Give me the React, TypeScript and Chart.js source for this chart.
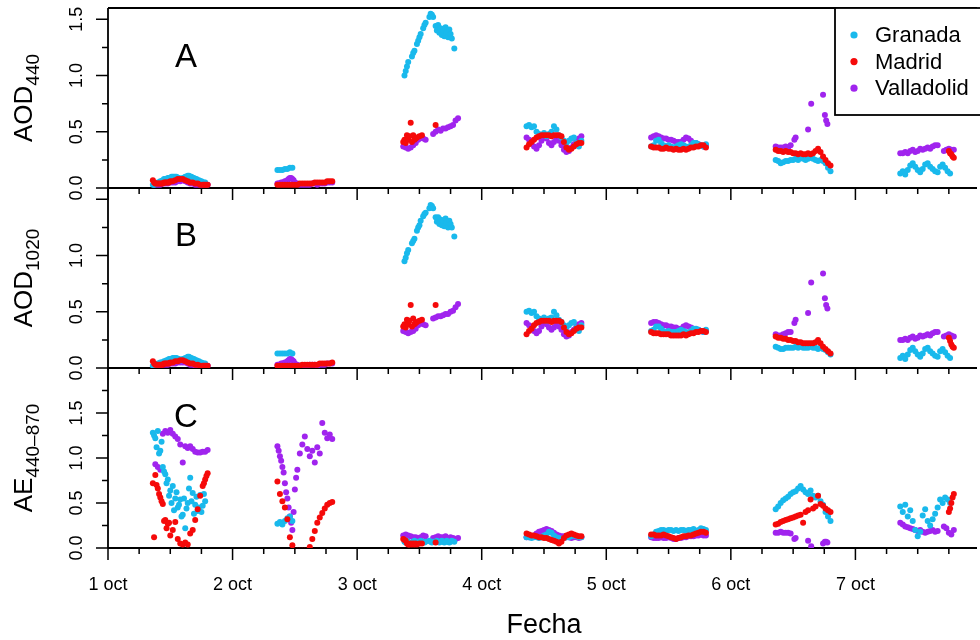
import { useEffect, useRef } from 'react';
import { Chart, registerables } from 'chart.js';

Chart.register(...registerables);

const FONT = "'Liberation Sans', Arial, Helvetica, sans-serif";

// Day ticks (1 = 1 October, 00:00 UTC)
const dayTicks = [1, 2, 3, 4, 5, 6, 7];
const dayLabels = ['1 oct', '2 oct', '3 oct', '4 oct', '5 oct', '6 oct', '7 oct'];
const xMin = 1;
const xMax = 7.976;

// Labelled values on each panel's y axis
const aod440Labels = [0, 0.5, 1.0, 1.5];
const aod1020Labels = [0, 0.5, 1.0];
const aeLabels = [0, 0.5, 1.0, 1.5];

// ---------------- Granada ----------------
const granadaTime = [
  1.36, 1.37, 1.38, 1.39, 1.40, 1.41, 1.42, 1.43, 1.44, 1.46, 1.48, 1.50, 1.52, 1.54, 1.56, 1.58, 1.60, 1.62, 1.64, 1.66, 1.68, 1.70, 1.72, 1.74, 1.76, 1.78,
  1.45, 1.47, 1.49, 1.51, 1.53, 1.55, 1.57, 1.59, 1.61, 1.63, 1.65, 1.67, 1.69, 1.71, 1.73, 1.75, 1.77,
  2.36, 2.38, 2.40, 2.42, 2.44, 2.46, 2.48,
  3.38, 3.39, 3.40, 3.41, 3.44, 3.45, 3.46, 3.48, 3.49, 3.50, 3.51, 3.53, 3.54, 3.55, 3.58, 3.59, 3.60, 3.61, 3.63, 3.64, 3.65, 3.66, 3.67, 3.68, 3.69, 3.70, 3.71, 3.72, 3.73, 3.74, 3.75, 3.76, 3.78,
  4.36, 4.38, 4.40, 4.42, 4.44, 4.46, 4.48, 4.50, 4.52, 4.54, 4.56, 4.58, 4.60, 4.62, 4.64, 4.66, 4.68, 4.70, 4.72, 4.74, 4.76, 4.78, 4.80,
  5.36, 5.38, 5.40, 5.42, 5.44, 5.46, 5.48, 5.50, 5.52, 5.54, 5.56, 5.58, 5.60, 5.62, 5.64, 5.66, 5.68, 5.70, 5.72, 5.74, 5.76, 5.78, 5.80,
  6.36, 6.38, 6.40, 6.42, 6.44, 6.46, 6.48, 6.50, 6.52, 6.54, 6.56, 6.58, 6.60, 6.62, 6.64, 6.66, 6.68, 6.70, 6.72, 6.74, 6.76, 6.78, 6.80,
  7.36, 7.38, 7.40, 7.42, 7.44, 7.46, 7.48, 7.50, 7.52, 7.54, 7.56, 7.58, 7.60, 7.62, 7.64, 7.66, 7.68, 7.70, 7.72, 7.74, 7.76,
];
const granadaAod440 = [
  0.03, 0.03, 0.04, 0.04, 0.05, 0.05, 0.06, 0.06, 0.07, 0.08, 0.09, 0.09, 0.10, 0.10, 0.09, 0.08, 0.09, 0.10, 0.11, 0.10, 0.09, 0.08, 0.07, 0.06, 0.05, 0.05,
  0.08, 0.08, 0.09, 0.10, 0.10, 0.10, 0.09, 0.08, 0.09, 0.10, 0.11, 0.10, 0.09, 0.08, 0.07, 0.06, 0.05,
  0.16, 0.16, 0.16, 0.17, 0.17, 0.18, 0.18,
  1.00, 1.04, 1.08, 1.12, 1.17, 1.20, 1.22, 1.28, 1.31, 1.34, 1.37, 1.42, 1.45, 1.47, 1.52, 1.55, 1.54, 1.52, 1.44, 1.40, 1.45, 1.38, 1.42, 1.36, 1.40, 1.35, 1.43, 1.38, 1.34, 1.41, 1.37, 1.33, 1.24,
  0.55, 0.56, 0.54, 0.55, 0.50, 0.48, 0.47, 0.49, 0.46, 0.48, 0.50, 0.55, 0.52, 0.47, 0.45, 0.42, 0.40, 0.42, 0.44, 0.45, 0.40, 0.37, 0.42,
  0.37, 0.38, 0.42, 0.43, 0.40, 0.38, 0.37, 0.38, 0.37, 0.36, 0.37, 0.38, 0.39, 0.38, 0.37, 0.36, 0.38, 0.40, 0.40, 0.39, 0.38, 0.37, 0.39,
  0.25, 0.24, 0.22, 0.23, 0.24, 0.24, 0.25, 0.25, 0.26, 0.25, 0.27, 0.26, 0.25, 0.26, 0.27, 0.26, 0.25, 0.24, 0.25, 0.24, 0.22, 0.18, 0.15,
  0.13, 0.15, 0.12, 0.16, 0.20, 0.22, 0.19, 0.16, 0.14, 0.17, 0.21, 0.22, 0.19, 0.17, 0.15, 0.14, 0.19, 0.21, 0.18, 0.15, 0.13,
];
const granadaAod1020 = [
  0.02, 0.02, 0.03, 0.03, 0.04, 0.04, 0.05, 0.05, 0.05, 0.06, 0.07, 0.08, 0.09, 0.09, 0.08, 0.07, 0.08, 0.09, 0.10, 0.09, 0.08, 0.07, 0.06, 0.05, 0.04, 0.04,
  0.06, 0.07, 0.08, 0.08, 0.09, 0.09, 0.08, 0.07, 0.08, 0.09, 0.10, 0.09, 0.08, 0.07, 0.06, 0.05, 0.04,
  0.13, 0.13, 0.13, 0.13, 0.13, 0.14, 0.13,
  0.95, 0.98, 1.02, 1.05, 1.11, 1.13, 1.15, 1.22, 1.25, 1.27, 1.31, 1.35, 1.37, 1.38, 1.42, 1.45, 1.44, 1.42, 1.34, 1.30, 1.34, 1.28, 1.32, 1.27, 1.31, 1.26, 1.33, 1.29, 1.25, 1.31, 1.28, 1.25, 1.17,
  0.50, 0.51, 0.49, 0.50, 0.46, 0.44, 0.43, 0.45, 0.42, 0.44, 0.45, 0.50, 0.47, 0.43, 0.41, 0.38, 0.36, 0.38, 0.40, 0.41, 0.36, 0.33, 0.38,
  0.33, 0.34, 0.37, 0.37, 0.35, 0.33, 0.32, 0.33, 0.32, 0.32, 0.32, 0.33, 0.34, 0.33, 0.32, 0.31, 0.33, 0.35, 0.35, 0.34, 0.33, 0.32, 0.34,
  0.19, 0.18, 0.17, 0.17, 0.18, 0.18, 0.18, 0.18, 0.19, 0.18, 0.19, 0.18, 0.18, 0.18, 0.19, 0.18, 0.18, 0.17, 0.18, 0.17, 0.16, 0.14, 0.12,
  0.09, 0.11, 0.08, 0.12, 0.16, 0.18, 0.15, 0.12, 0.10, 0.13, 0.17, 0.18, 0.15, 0.13, 0.11, 0.10, 0.15, 0.17, 0.14, 0.11, 0.09,
];
const granadaAe = [
  1.28, 1.25, 1.22, 1.12, 1.30, 1.05, 1.08, 1.18, 0.90, 0.82, 0.76, 0.64, 0.69, 0.55, 0.45, 0.54, 0.37, 0.22, 0.50, 0.78, 0.61, 0.48, 0.41, 0.59, 0.47, 0.52,
  0.85, 0.72, 0.58, 0.50, 0.42, 0.62, 0.48, 0.35, 0.55, 0.44, 0.66, 0.52, 0.38, 0.57, 0.45, 0.40, 0.60,
  0.27, 0.29, 0.26, 0.30, 0.33, 0.35, 0.30,
  0.07, 0.06, 0.08, 0.07, 0.06, 0.07, 0.08, 0.07, 0.06, 0.07, 0.08, 0.07, 0.06, 0.07, 0.08, 0.07, 0.06, 0.07, 0.07, 0.08, 0.07, 0.06, 0.07, 0.08, 0.07, 0.06, 0.07, 0.08, 0.07, 0.06, 0.07, 0.08, 0.07,
  0.12, 0.12, 0.11, 0.12, 0.12, 0.11, 0.12, 0.14, 0.15, 0.18, 0.17, 0.14, 0.12, 0.11, 0.10, 0.11, 0.12, 0.12, 0.13, 0.14, 0.13, 0.12, 0.12,
  0.13, 0.15, 0.18, 0.19, 0.20, 0.20, 0.19, 0.20, 0.20, 0.19, 0.20, 0.19, 0.20, 0.20, 0.19, 0.20, 0.20, 0.21, 0.19, 0.20, 0.22, 0.21, 0.20,
  0.43, 0.46, 0.50, 0.53, 0.55, 0.57, 0.60, 0.62, 0.63, 0.66, 0.69, 0.65, 0.62, 0.60, 0.64, 0.58, 0.56, 0.58, 0.52, 0.48, 0.40, 0.35, 0.30,
  0.46, 0.40, 0.48, 0.35, 0.42, 0.30, 0.20, 0.13, 0.18, 0.36, 0.43, 0.30, 0.25, 0.32, 0.38, 0.45, 0.54, 0.50, 0.56, 0.54, 0.50,
];

// ---------------- Madrid ----------------
const madridTime = [
  1.36, 1.38, 1.40, 1.42, 1.44, 1.46, 1.48, 1.50, 1.52, 1.54, 1.56, 1.58, 1.60, 1.62, 1.64, 1.66, 1.68, 1.70, 1.72, 1.74, 1.76, 1.78, 1.80,
  1.37, 1.39, 1.41, 1.43, 1.45, 1.47, 1.49, 1.77, 1.79,
  2.36, 2.38, 2.40, 2.42, 2.44, 2.46, 2.48, 2.50, 2.52, 2.54, 2.56, 2.58, 2.60, 2.62, 2.64, 2.66, 2.68, 2.70, 2.72, 2.74, 2.76, 2.78, 2.80,
  3.37, 3.38, 3.39, 3.40, 3.41, 3.42, 3.43, 3.44, 3.45, 3.46, 3.47, 3.48, 3.50, 3.52, 3.63,
  4.36, 4.38, 4.40, 4.42, 4.44, 4.46, 4.48, 4.50, 4.52, 4.54, 4.56, 4.58, 4.60, 4.62, 4.64, 4.66, 4.68, 4.70, 4.72, 4.74, 4.76, 4.78, 4.80,
  5.36, 5.38, 5.40, 5.42, 5.44, 5.46, 5.48, 5.50, 5.52, 5.54, 5.56, 5.58, 5.60, 5.62, 5.64, 5.66, 5.68, 5.70, 5.72, 5.74, 5.76, 5.78, 5.80,
  6.36, 6.38, 6.40, 6.42, 6.44, 6.46, 6.48, 6.50, 6.52, 6.54, 6.56, 6.58, 6.60, 6.62, 6.64, 6.66, 6.68, 6.70, 6.72, 6.74, 6.76, 6.78, 6.80,
  7.75, 7.76, 7.77, 7.78, 7.79,
];
const madridAod440 = [
  0.07, 0.04, 0.04, 0.04, 0.04, 0.05, 0.05, 0.06, 0.06, 0.07, 0.08, 0.08, 0.08, 0.07, 0.06, 0.05, 0.05, 0.04, 0.04, 0.03, 0.03, 0.03, 0.03,
  0.05, 0.04, 0.04, 0.04, 0.05, 0.05, 0.05, 0.03, 0.03,
  0.03, 0.03, 0.03, 0.03, 0.03, 0.03, 0.03, 0.03, 0.03, 0.04, 0.04, 0.04, 0.04, 0.04, 0.04, 0.05, 0.05, 0.05, 0.05, 0.05, 0.06, 0.06, 0.06,
  0.41, 0.43, 0.40, 0.47, 0.43, 0.46, 0.58, 0.41, 0.47, 0.43, 0.44, 0.45, 0.46, 0.47, 0.56,
  0.36, 0.39, 0.41, 0.43, 0.45, 0.46, 0.47, 0.47, 0.47, 0.47, 0.46, 0.47, 0.47, 0.47, 0.46, 0.41, 0.36, 0.34, 0.35, 0.37, 0.39, 0.40, 0.40,
  0.37, 0.36, 0.36, 0.36, 0.35, 0.35, 0.36, 0.35, 0.35, 0.34, 0.35, 0.34, 0.34, 0.35, 0.34, 0.35, 0.36, 0.36, 0.37, 0.37, 0.38, 0.38, 0.36,
  0.34, 0.33, 0.33, 0.32, 0.33, 0.32, 0.32, 0.31, 0.31, 0.30, 0.31, 0.30, 0.30, 0.31, 0.30, 0.31, 0.33, 0.35, 0.32, 0.28, 0.25, 0.22, 0.20,
  0.33, 0.31, 0.30, 0.28, 0.27,
];
const madridAod1020 = [
  0.06, 0.03, 0.03, 0.03, 0.03, 0.04, 0.04, 0.05, 0.05, 0.06, 0.06, 0.07, 0.07, 0.06, 0.05, 0.04, 0.04, 0.03, 0.03, 0.02, 0.02, 0.02, 0.02,
  0.04, 0.03, 0.03, 0.03, 0.04, 0.04, 0.04, 0.02, 0.02,
  0.02, 0.02, 0.02, 0.02, 0.02, 0.02, 0.02, 0.02, 0.02, 0.02, 0.03, 0.03, 0.03, 0.03, 0.03, 0.03, 0.03, 0.04, 0.04, 0.04, 0.04, 0.04, 0.05,
  0.37, 0.39, 0.36, 0.43, 0.39, 0.42, 0.56, 0.37, 0.44, 0.39, 0.40, 0.41, 0.42, 0.43, 0.56,
  0.30, 0.33, 0.35, 0.38, 0.40, 0.41, 0.42, 0.42, 0.42, 0.42, 0.41, 0.42, 0.42, 0.42, 0.41, 0.36, 0.32, 0.30, 0.31, 0.33, 0.35, 0.36, 0.36,
  0.32, 0.31, 0.31, 0.31, 0.30, 0.30, 0.30, 0.30, 0.29, 0.29, 0.29, 0.29, 0.29, 0.30, 0.29, 0.30, 0.31, 0.31, 0.32, 0.32, 0.33, 0.33, 0.32,
  0.28, 0.27, 0.27, 0.26, 0.26, 0.25, 0.25, 0.24, 0.24, 0.23, 0.23, 0.22, 0.22, 0.22, 0.22, 0.22, 0.23, 0.25, 0.22, 0.19, 0.17, 0.15, 0.13,
  0.27, 0.24, 0.21, 0.19, 0.18,
];
const madridAe = [
  0.72, 0.81, 0.66, 0.56, 0.49, 0.31, 0.27, 0.14, 0.20, 0.29, 0.10, 0.05, 0.04, 0.06, 0.04, 0.16, 0.20, 0.31, 0.43, 0.58, 0.69, 0.76, 0.83,
  0.12, 0.70, 0.60, 0.52, 0.30, 0.22, 0.28, 0.72, 0.80,
  0.74, 0.60, 0.52, 0.45, 0.32, 0.12, 0.03, -0.03, -0.03, -0.03, -0.03, -0.03, -0.03, 0.01, 0.10, 0.19, 0.28, 0.34, 0.39, 0.44, 0.48, 0.50, 0.51,
  0.10, 0.09, 0.08, 0.05, 0.04, 0.04, 0.05, 0.04, 0.05, 0.04, 0.05, 0.04, 0.05, 0.05, 0.06,
  0.16, 0.15, 0.14, 0.14, 0.13, 0.12, 0.12, 0.11, 0.11, 0.10, 0.09, 0.08, 0.07, 0.05, 0.07, 0.11, 0.14, 0.15, 0.16, 0.15, 0.14, 0.13, 0.13,
  0.15, 0.15, 0.14, 0.14, 0.14, 0.15, 0.14, 0.13, 0.12, 0.11, 0.10, 0.11, 0.12, 0.13, 0.13, 0.14, 0.14, 0.15, 0.16, 0.17, 0.18, 0.18, 0.17,
  0.26, 0.27, 0.29, 0.30, 0.31, 0.32, 0.33, 0.34, 0.35, 0.36, 0.37, 0.28, 0.40, 0.42, 0.54, 0.44, 0.46, 0.58, 0.49, 0.47, 0.44, 0.42, 0.40,
  0.40, 0.44, 0.50, 0.56, 0.60,
];

// ---------------- Valladolid ----------------
const valladolidTime = [
  1.38, 1.40, 1.42, 1.44, 1.46, 1.48, 1.50, 1.52, 1.54, 1.56, 1.58, 1.60, 1.62, 1.64, 1.66, 1.68, 1.70, 1.72, 1.74, 1.76, 1.78, 1.80,
  2.36, 2.38, 2.40, 2.42, 2.44, 2.46, 2.48, 2.50, 2.52, 2.54, 2.56, 2.58, 2.60, 2.62, 2.64, 2.66, 2.68, 2.70, 2.72, 2.74, 2.76, 2.78, 2.80,
  2.37, 2.39, 2.41, 2.43, 2.45, 2.47, 2.49, 2.51,
  3.37, 3.39, 3.41, 3.43, 3.45, 3.47, 3.49, 3.51, 3.53, 3.55, 3.61, 3.63, 3.65, 3.67, 3.69, 3.71, 3.73, 3.75, 3.77, 3.79, 3.81,
  4.36, 4.38, 4.40, 4.42, 4.44, 4.46, 4.48, 4.50, 4.52, 4.54, 4.56, 4.58, 4.60, 4.62, 4.64, 4.66, 4.68, 4.70, 4.72, 4.74, 4.76, 4.78, 4.80,
  5.36, 5.38, 5.40, 5.42, 5.44, 5.46, 5.48, 5.50, 5.52, 5.54, 5.56, 5.58, 5.60, 5.62, 5.64, 5.66, 5.68, 5.70, 5.72, 5.74, 5.76, 5.78, 5.80,
  6.36, 6.38, 6.40, 6.42, 6.44, 6.46, 6.48, 6.51, 6.52, 6.62, 6.645, 6.74, 6.755, 6.765, 6.775,
  7.36, 7.38, 7.40, 7.42, 7.44, 7.46, 7.48, 7.50, 7.52, 7.54, 7.56, 7.58, 7.60, 7.62, 7.64, 7.66, 7.71, 7.73, 7.75, 7.77, 7.79,
];
const valladolidAod440 = [
  0.03, 0.03, 0.03, 0.04, 0.04, 0.04, 0.05, 0.05, 0.05, 0.06, 0.06, 0.07, 0.06, 0.05, 0.04, 0.04, 0.03, 0.03, 0.03, 0.03, 0.03, 0.03,
  0.04, 0.04, 0.05, 0.06, 0.07, 0.09, 0.08, 0.05, 0.04, 0.03, 0.03, 0.03, 0.03, 0.03, 0.04, 0.04, 0.03, 0.04, 0.04, 0.04, 0.05, 0.05, 0.05,
  0.04, 0.05, 0.05, 0.06, 0.08, 0.09, 0.07, 0.04,
  0.37, 0.36, 0.35, 0.36, 0.38, 0.40, 0.43, 0.45, 0.44, 0.43, 0.48, 0.50, 0.52, 0.51, 0.53, 0.53, 0.54, 0.55, 0.56, 0.60, 0.62,
  0.45, 0.43, 0.40, 0.37, 0.35, 0.38, 0.42, 0.45, 0.44, 0.40, 0.38, 0.41, 0.44, 0.42, 0.38, 0.34, 0.32, 0.33, 0.36, 0.39, 0.42, 0.44, 0.46,
  0.45, 0.46, 0.47, 0.46, 0.45, 0.44, 0.44, 0.43, 0.43, 0.42, 0.41, 0.41, 0.41, 0.43, 0.45, 0.44, 0.42, 0.40, 0.40, 0.39, 0.38, 0.37, 0.38,
  0.37, 0.36, 0.36, 0.36, 0.37, 0.36, 0.38, 0.43, 0.45, 0.52, 0.75, 0.83, 0.65, 0.60, 0.57,
  0.31, 0.31, 0.32, 0.31, 0.33, 0.34, 0.32, 0.33, 0.35, 0.34, 0.35, 0.36, 0.35, 0.37, 0.38, 0.38, 0.33, 0.34, 0.35, 0.34, 0.34,
];
const valladolidAod1020 = [
  0.02, 0.02, 0.02, 0.03, 0.03, 0.03, 0.04, 0.04, 0.04, 0.05, 0.05, 0.05, 0.05, 0.04, 0.03, 0.03, 0.02, 0.02, 0.02, 0.02, 0.02, 0.02,
  0.03, 0.03, 0.04, 0.05, 0.06, 0.08, 0.07, 0.04, 0.03, 0.02, 0.02, 0.02, 0.02, 0.03, 0.03, 0.03, 0.02, 0.03, 0.03, 0.03, 0.04, 0.04, 0.04,
  0.03, 0.04, 0.04, 0.05, 0.07, 0.08, 0.06, 0.03,
  0.33, 0.32, 0.31, 0.32, 0.33, 0.35, 0.38, 0.40, 0.39, 0.38, 0.44, 0.45, 0.46, 0.46, 0.47, 0.48, 0.48, 0.50, 0.51, 0.54, 0.57,
  0.40, 0.38, 0.35, 0.33, 0.31, 0.33, 0.37, 0.40, 0.39, 0.36, 0.34, 0.36, 0.39, 0.37, 0.34, 0.30, 0.28, 0.29, 0.32, 0.34, 0.37, 0.39, 0.40,
  0.40, 0.41, 0.41, 0.40, 0.39, 0.38, 0.38, 0.37, 0.37, 0.36, 0.36, 0.35, 0.35, 0.37, 0.38, 0.37, 0.36, 0.35, 0.34, 0.34, 0.33, 0.32, 0.33,
  0.30, 0.29, 0.29, 0.30, 0.31, 0.32, 0.32, 0.40, 0.43, 0.49, 0.76, 0.84, 0.62, 0.56, 0.53,
  0.25, 0.25, 0.26, 0.25, 0.27, 0.28, 0.26, 0.27, 0.29, 0.28, 0.29, 0.30, 0.29, 0.31, 0.32, 0.32, 0.28, 0.29, 0.30, 0.29, 0.28,
];
const valladolidAe = [
  0.93, 0.90, 0.87, 1.27, 1.30, 1.28, 1.31, 1.27, 1.24, 1.21, 1.15, 0.95, 1.13, 1.11, 1.13, 1.10, 1.07, 1.06, 1.06, 1.07, 1.07, 1.09,
  1.13, 1.02, 0.90, 0.72, 0.55, 0.35, 0.20, 0.65, 0.87, 1.05, 1.15, 1.24, 1.10, 1.02, 1.08, 0.95, 1.12, 1.05, 1.39, 1.28, 1.22, 1.26, 1.21,
  1.08, 0.97, 0.84, 0.62, 0.45, 0.28, 0.40, 0.78,
  0.14, 0.15, 0.14, 0.13, 0.12, 0.12, 0.11, 0.12, 0.14, 0.13, 0.11, 0.12, 0.13, 0.12, 0.12, 0.13, 0.11, 0.12, 0.11, 0.10, 0.11,
  0.12, 0.12, 0.13, 0.14, 0.16, 0.18, 0.19, 0.20, 0.21, 0.20, 0.19, 0.17, 0.15, 0.14, 0.13, 0.13, 0.12, 0.12, 0.11, 0.12, 0.12, 0.11, 0.12,
  0.12, 0.11, 0.11, 0.11, 0.12, 0.11, 0.11, 0.12, 0.11, 0.10, 0.10, 0.11, 0.11, 0.12, 0.12, 0.13, 0.13, 0.13, 0.14, 0.14, 0.15, 0.14, 0.14,
  0.17, 0.17, 0.18, 0.17, 0.17, 0.17, 0.16, 0.10, 0.11, 0.08, 0.02, 0.05, 0.07, 0.07, 0.06,
  0.28, 0.26, 0.24, 0.23, 0.22, 0.21, 0.20, 0.19, 0.20, 0.18, 0.17, 0.18, 0.19, 0.20, 0.18, 0.19, 0.24, 0.22, 0.17, 0.15, 0.20,
];

type Panel = {
  id: string;
  max: number;
  letter: string;
  letterY: number;
  title: string;
  sub: string;
  labelled: number[];
};

const panels: Panel[] = [
  { id: 'yA', max: 1.6, letter: 'A', letterY: 1.18, title: 'AOD', sub: '440', labelled: aod440Labels },
  { id: 'yB', max: 1.6, letter: 'B', letterY: 1.19, title: 'AOD', sub: '1020', labelled: aod1020Labels },
  { id: 'yC', max: 2.0, letter: 'C', letterY: 1.48, title: 'AE', sub: '440\u2013870', labelled: aeLabels },
];

const series = [
  { label: 'Granada', color: '#19B9EC', order: 1, time: granadaTime, values: [granadaAod440, granadaAod1020, granadaAe] },
  { label: 'Madrid', color: '#F50A0A', order: 0, time: madridTime, values: [madridAod440, madridAod1020, madridAe] },
  { label: 'Valladolid', color: '#A024EE', order: 2, time: valladolidTime, values: [valladolidAod440, valladolidAod1020, valladolidAe] },
];

const LETTER_X = 1.626;

// Keep each panel's points inside its own plotting region
const panelClip = {
  id: 'panelClip',
  beforeDatasetDraw(chart: any, args: any) {
    const ys = chart.scales[args.meta.yAxisID];
    const { left, right } = chart.chartArea;
    const ctx = chart.ctx;
    ctx.save();
    ctx.beginPath();
    ctx.rect(left, ys.top, right - left, ys.bottom - ys.top);
    ctx.clip();
  },
  afterDatasetDraw(chart: any) {
    chart.ctx.restore();
  },
};

function drawRotatedTitle(ctx: CanvasRenderingContext2D, main: string, sub: string, xBase: number, yCenter: number) {
  ctx.save();
  ctx.translate(xBase, yCenter);
  ctx.rotate(-Math.PI / 2);
  ctx.font = `26px ${FONT}`;
  const w1 = ctx.measureText(main).width;
  ctx.font = `19px ${FONT}`;
  const w2 = ctx.measureText(sub).width;
  const start = -(w1 + w2) / 2;
  ctx.textAlign = 'left';
  ctx.textBaseline = 'alphabetic';
  ctx.fillStyle = '#000';
  ctx.font = `26px ${FONT}`;
  ctx.fillText(main, start, 0);
  ctx.font = `19px ${FONT}`;
  ctx.fillText(sub, start + w1, 7);
  ctx.restore();
}

// Frame, tick marks, tick labels, titles, panel letters
const panelFrame = {
  id: 'panelFrame',
  beforeDatasetsDraw(chart: any) {
    const { ctx, chartArea } = chart;
    const xs = chart.scales.x;
    ctx.save();
    ctx.strokeStyle = '#000';
    ctx.lineWidth = 1.8;
    ctx.beginPath();
    ctx.moveTo(chartArea.left, chartArea.top);
    ctx.lineTo(chartArea.right, chartArea.top);
    ctx.moveTo(chartArea.left, chartArea.top);
    ctx.lineTo(chartArea.left, chartArea.bottom);
    panels.forEach((p) => {
      const ys = chart.scales[p.id];
      ctx.moveTo(chartArea.left, ys.bottom);
      ctx.lineTo(chartArea.right, ys.bottom);
    });
    ctx.stroke();

    ctx.lineWidth = 1.5;
    ctx.beginPath();
    panels.forEach((p) => {
      const ys = chart.scales[p.id];
      for (let k = 0; k * 0.25 <= p.max + 1e-9; k++) {
        const py = ys.getPixelForValue(k * 0.25);
        const len = k % 2 === 0 ? 12 : 6;
        ctx.moveTo(chartArea.left, py);
        ctx.lineTo(chartArea.left - len, py);
      }
      for (let k = 0; xMin + k * 0.25 <= xMax; k++) {
        const px = xs.getPixelForValue(xMin + k * 0.25);
        const len = k % 4 === 0 ? 12 : 6;
        ctx.moveTo(px, ys.bottom);
        ctx.lineTo(px, ys.bottom + len);
      }
    });
    ctx.stroke();

    ctx.fillStyle = '#000';
    // y tick labels, rotated
    ctx.font = `18px ${FONT}`;
    panels.forEach((p) => {
      const ys = chart.scales[p.id];
      p.labelled.forEach((v) => {
        ctx.save();
        ctx.translate(82, ys.getPixelForValue(v));
        ctx.rotate(-Math.PI / 2);
        ctx.textAlign = 'center';
        ctx.textBaseline = 'alphabetic';
        ctx.fillText(v.toFixed(1), 0, 0);
        ctx.restore();
      });
      drawRotatedTitle(ctx, p.title, p.sub, 32, (ys.top + ys.bottom) / 2);
    });

    // x tick labels
    ctx.textAlign = 'center';
    ctx.textBaseline = 'alphabetic';
    ctx.font = `18px ${FONT}`;
    const bottom = chart.scales[panels[panels.length - 1].id].bottom;
    dayTicks.forEach((d, i) => {
      ctx.fillText(dayLabels[i], xs.getPixelForValue(d), bottom + 42);
    });
    ctx.font = `27px ${FONT}`;
    const xCenter = (xs.getPixelForValue(1) + xs.getPixelForValue(8)) / 2;
    ctx.fillText('Fecha', xCenter, bottom + 85);

    // panel letters
    ctx.font = `33px ${FONT}`;
    panels.forEach((p) => {
      const ys = chart.scales[p.id];
      ctx.fillText(p.letter, xs.getPixelForValue(LETTER_X), ys.getPixelForValue(p.letterY) + 12);
    });
    ctx.restore();
  },
  afterDatasetsDraw(chart: any) {
    const { ctx, chartArea } = chart;
    const left = chartArea.right - 142;
    const top = chartArea.top;
    ctx.save();
    ctx.fillStyle = '#fff';
    ctx.fillRect(left, top, 200, 107);
    ctx.strokeStyle = '#000';
    ctx.lineWidth = 1.8;
    ctx.strokeRect(left, top, 200, 107);
    ctx.font = `22px ${FONT}`;
    ctx.textAlign = 'left';
    ctx.textBaseline = 'middle';
    series.forEach((s, i) => {
      const cy = top + 27 + i * 26.6;
      ctx.fillStyle = s.color;
      ctx.beginPath();
      ctx.arc(left + 19, cy, 3.6, 0, Math.PI * 2);
      ctx.fill();
      ctx.fillStyle = '#000';
      ctx.fillText(s.label, left + 40, cy + 1);
    });
    ctx.restore();
  },
};

export default function App() {
  const ref = useRef<HTMLCanvasElement>(null);

  useEffect(() => {
    const canvas = ref.current;
    if (!canvas) return;
    const datasets: any[] = [];
    panels.forEach((panel, p) => {
      series.forEach((s) => {
        datasets.push({
          label: `${s.label} ${panel.letter}`,
          data: s.time.map((t, i) => ({ x: t, y: s.values[p][i] })),
          xAxisID: 'x',
          yAxisID: panel.id,
          backgroundColor: s.color,
          borderWidth: 0,
          pointRadius: 3,
          pointHoverRadius: 3,
          showLine: false,
          order: s.order,
        });
      });
    });

    const scales: any = {
      x: { type: 'linear', position: 'bottom', min: xMin, max: xMax, display: false },
    };
    // stacked panels share the left edge; later axes are placed higher
    [...panels].reverse().forEach((panel) => {
      scales[panel.id] = {
        type: 'linear',
        position: 'left',
        stack: 'panels',
        stackWeight: 1,
        min: 0,
        max: panel.max,
        display: false,
      };
    });

    const chart = new Chart(canvas, {
      type: 'scatter',
      data: { datasets },
      options: {
        animation: false,
        responsive: false,
        devicePixelRatio: 1,
        events: [],
        layout: { padding: { left: 108, top: 8, right: 0, bottom: 92 } },
        scales,
        plugins: { legend: { display: false }, tooltip: { enabled: false } },
      },
      plugins: [panelClip, panelFrame],
    });
    return () => chart.destroy();
  }, []);

  return (
    <div style={{ position: 'fixed', left: 0, top: 0, width: 980, height: 640, background: '#fff' }}>
      <canvas ref={ref} width={980} height={640} style={{ display: 'block', width: 980, height: 640 }} />
    </div>
  );
}
